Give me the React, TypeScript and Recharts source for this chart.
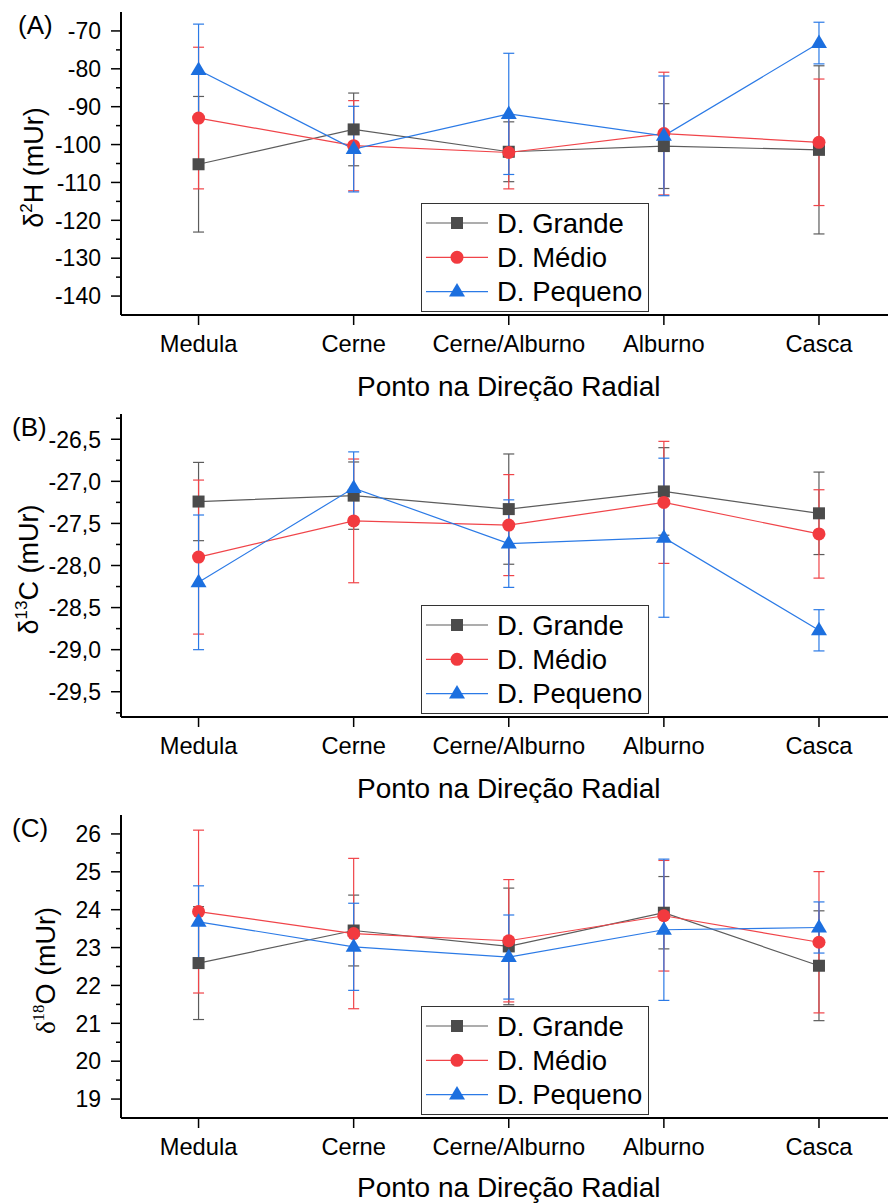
import React from 'react';
import { LineChart, Line, XAxis, YAxis, ErrorBar, Legend } from 'recharts';

// pontos na direção radial
const categories = ['Medula', 'Cerne', 'Cerne/Alburno', 'Alburno', 'Casca'];
const seriesNames = ['D. Grande', 'D. Médio', 'D. Pequeno'];

// (A) δ2H (mUr) - média e desvio
const h2Grande = [-105.2, -96.0, -101.9, -100.4, -101.4];
const h2GrandeSd = [17.9, 9.6, 7.9, 11.2, 22.2];
const h2Medio = [-93.0, -100.3, -102.1, -97.1, -99.4];
const h2MedioSd = [18.7, 11.9, 9.6, 16.2, 16.7];
const h2Pequeno = [-80.3, -101.2, -91.9, -97.7, -73.2];
const h2PequenoSd = [12.1, 11.3, 16.0, 15.8, 5.5];
const h2Major = [-140, -130, -120, -110, -100, -90, -80, -70];
const h2Minor = [-135, -125, -115, -105, -95, -85, -75];

// (B) δ13C (mUr)
const c13Grande = [-27.24, -27.17, -27.33, -27.12, -27.38];
const c13GrandeSd = [0.465, 0.4, 0.655, 0.52, 0.49];
const c13Medio = [-27.9, -27.47, -27.52, -27.25, -27.625];
const c13MedioSd = [0.915, 0.735, 0.6, 0.725, 0.525];
const c13Pequeno = [-28.2, -27.08, -27.74, -27.67, -28.77];
const c13PequenoSd = [0.8, 0.43, 0.52, 0.945, 0.245];
const c13Major = [-29.5, -29, -28.5, -28, -27.5, -27, -26.5];
const c13Minor = [-29.75, -29.25, -28.75, -28.25, -27.75, -27.25, -26.75, -26.25];

// (C) δ18O (mUr)
const o18Grande = [22.59, 23.45, 23.03, 23.92, 22.52];
const o18GrandeSd = [1.49, 0.935, 1.54, 0.955, 1.45];
const o18Medio = [23.95, 23.37, 23.18, 23.84, 23.14];
const o18MedioSd = [2.15, 1.985, 1.615, 1.46, 1.865];
const o18Pequeno = [23.68, 23.02, 22.75, 23.47, 23.53];
const o18PequenoSd = [0.95, 1.15, 1.11, 1.865, 0.675];
const o18Major = [19, 20, 21, 22, 23, 24, 25, 26];
const o18Minor = [19.5, 20.5, 21.5, 22.5, 23.5, 24.5, 25.5];

const FONT = '"Liberation Sans", Arial, sans-serif';
const SERIF = '"Liberation Serif", "Times New Roman", serif';
const X_DOMAIN: [number, number] = [-0.5, 4.445];
const TICK_SIZE = 10;
const TICK_MARGIN = 10;

const styles = [
  { key: 'g', shape: 'square', fill: '#4b4b4b', line: '#5c5c5c', err: '#5c5c5c' },
  { key: 'm', shape: 'circle', fill: '#f23a3f', line: '#f04449', err: '#f04449' },
  { key: 'p', shape: 'triangle', fill: '#1c6fdf', line: '#2b7ae6', err: '#2b7ae6' },
];

const buildRows = (g: number[], gSd: number[], m: number[], mSd: number[], p: number[], pSd: number[]) =>
  categories.map((name, i) => ({ x: i, name, g: g[i], gSd: gSd[i], m: m[i], mSd: mSd[i], p: p[i], pSd: pSd[i] }));

const Marker = ({ shape, cx, cy, fill }: any) => {
  if (shape === 'square') return <rect x={cx - 6} y={cy - 6} width={12} height={12} fill={fill} />;
  if (shape === 'circle') return <circle cx={cx} cy={cy} r={6.5} fill={fill} />;
  return <polygon points={`${cx},${cy - 8.5} ${cx - 8},${cy + 5} ${cx + 8},${cy + 5}`} fill={fill} />;
};

const LegendBox = () => (
  <svg width={229} height={110} style={{ display: 'block' }}>
    <rect x={0.5} y={0.5} width={227} height={108} fill="#fff" stroke="#333" strokeWidth={1} />
    {styles.map((s, i) => {
      const cy = 20 + i * 34.3;
      return (
        <g key={s.key}>
          <line x1={5} x2={67} y1={cy} y2={cy} stroke={s.line} strokeWidth={1.2} />
          <Marker shape={s.shape} cx={36} cy={cy} fill={s.fill} />
          <text x={76} y={cy + 9.8} fontSize={27.5} fontFamily={FONT} fill="#000">{seriesNames[i]}</text>
        </g>
      );
    })}
  </svg>
);

const makeYTick = (majors: number[], fmt: (v: number) => string) => (props: any) => {
  const { x, y, payload } = props;
  const axisX = x + TICK_SIZE + TICK_MARGIN;
  const isMajor = majors.some((v) => Math.abs(v - payload.value) < 1e-6);
  return (
    <g>
      <line x1={axisX - (isMajor ? 10 : 5)} x2={axisX} y1={y} y2={y} stroke="#000" strokeWidth={1.5} />
      {isMajor && (
        <text x={x} y={y} dy="0.36em" textAnchor="end" fontSize={23} fontFamily={FONT} fill="#000">
          {fmt(payload.value)}
        </text>
      )}
    </g>
  );
};

const Panel = ({ rows, domain, majors, minors, fmt, sup, post, serif, titleX, letter, letterX, titleLift = 0 }: any) => {
  const ticks = [...majors, ...minors].sort((a, b) => a - b);
  const yTitle = (props: any) => {
    const vb = props.viewBox || { x: 0, y: 12, width: 121, height: 303 };
    const cx = vb.x + titleX;
    const cy = vb.y + vb.height / 2 + 4;
    const symFont = serif ? SERIF : FONT;
    return (
      <g>
        <text x={cx} y={cy} transform={`rotate(-90 ${cx} ${cy})`} textAnchor="middle" fontSize={27} fontFamily={FONT} fill="#000">
          <tspan fontFamily={symFont}>δ</tspan>
          <tspan fontFamily={symFont} fontSize={17} dy={-11}>{sup}</tspan>
          <tspan dy={11}>{post}</tspan>
        </text>
        <text x={letterX} y={vb.y + 22} fontSize={26} fontFamily={FONT} fill="#000">{letter}</text>
      </g>
    );
  };
  const xTitle = (props: any) => {
    const vb = props.viewBox || { x: 121, y: 315, width: 767, height: 86 };
    // centrado na categoria do meio
    const mid = (categories.length - 1) / 2;
    const cx = vb.x + ((mid - X_DOMAIN[0]) / (X_DOMAIN[1] - X_DOMAIN[0])) * vb.width;
    return (
      <text x={cx} y={vb.y + vb.height - 5 - titleLift} textAnchor="middle" fontSize={28} fontFamily={FONT} fill="#000">
        Ponto na Direção Radial
      </text>
    );
  };

  return (
    <LineChart width={888} height={401} data={rows} margin={{ top: 12, right: 0, bottom: 0, left: 0 }}>
      <XAxis
        type="number"
        dataKey="x"
        domain={X_DOMAIN}
        allowDataOverflow
        ticks={[0, 1, 2, 3, 4]}
        interval={0}
        tickFormatter={(i: number) => categories[i]}
        tickSize={TICK_SIZE}
        tickMargin={TICK_MARGIN}
        height={86}
        axisLine={{ stroke: '#000', strokeWidth: 2 }}
        tickLine={{ stroke: '#000', strokeWidth: 1.5 }}
        tick={{ fill: '#000', fontSize: 23.7, fontFamily: FONT }}
        label={xTitle}
      />
      <XAxis
        xAxisId="top"
        orientation="top"
        type="number"
        domain={X_DOMAIN}
        allowDataOverflow
        height={0}
        tick={false}
        tickLine={false}
        axisLine={{ stroke: '#000', strokeWidth: 2 }}
      />
      <YAxis
        type="number"
        domain={domain}
        allowDataOverflow
        ticks={ticks}
        interval={0}
        width={121}
        tickSize={TICK_SIZE}
        tickMargin={TICK_MARGIN}
        tickLine={false}
        axisLine={{ stroke: '#000', strokeWidth: 2 }}
        tick={makeYTick(majors, fmt)}
        label={yTitle}
      />
      {styles.map((s) => (
        <Line
          key={s.key}
          dataKey={s.key}
          type="linear"
          stroke={s.line}
          strokeWidth={1.2}
          isAnimationActive={false}
          activeDot={false}
          dot={(p: any) => <Marker key={`${s.key}-${p.index}`} shape={s.shape} cx={p.cx} cy={p.cy} fill={s.fill} />}
        >
          <ErrorBar dataKey={`${s.key}Sd`} direction="y" width={5.5} stroke={s.err} strokeWidth={1.2} isAnimationActive={false} />
        </Line>
      ))}
      <Legend
        layout="vertical"
        align="center"
        verticalAlign="middle"
        content={() => <LegendBox />}
        wrapperStyle={{ left: 421, top: 203, width: 229, height: 110 }}
      />
    </LineChart>
  );
};

const rowsA = buildRows(h2Grande, h2GrandeSd, h2Medio, h2MedioSd, h2Pequeno, h2PequenoSd);
const rowsB = buildRows(c13Grande, c13GrandeSd, c13Medio, c13MedioSd, c13Pequeno, c13PequenoSd);
const rowsC = buildRows(o18Grande, o18GrandeSd, o18Medio, o18MedioSd, o18Pequeno, o18PequenoSd);

export default function App() {
  return (
    <div style={{ position: 'absolute', left: 0, top: 0, width: 888, height: 1203, background: '#fff', overflow: 'hidden' }}>
      <div style={{ position: 'absolute', left: 0, top: 0 }}>
        <Panel rows={rowsA} domain={[-145, -65]} majors={h2Major} minors={h2Minor} fmt={(v: number) => String(v)}
          sup="2" post="H (mUr)" titleX={43} letter="(A)" letterX={18} />
      </div>
      <div style={{ position: 'absolute', left: 0, top: 402 }}>
        <Panel rows={rowsB} domain={[-29.8, -26.2]} majors={c13Major} minors={c13Minor}
          fmt={(v: number) => v.toFixed(1).replace('.', ',')}
          sup="13" post="C (mUr)" titleX={37.5} letter="(B)" letterX={12} />
      </div>
      <div style={{ position: 'absolute', left: 0, top: 803 }}>
        <Panel rows={rowsC} domain={[18.5, 26.5]} majors={o18Major} minors={o18Minor} fmt={(v: number) => String(v)}
          sup="18" post="O (mUr)" serif titleX={55} letter="(C)" letterX={12} titleLift={2} />
      </div>
    </div>
  );
}
